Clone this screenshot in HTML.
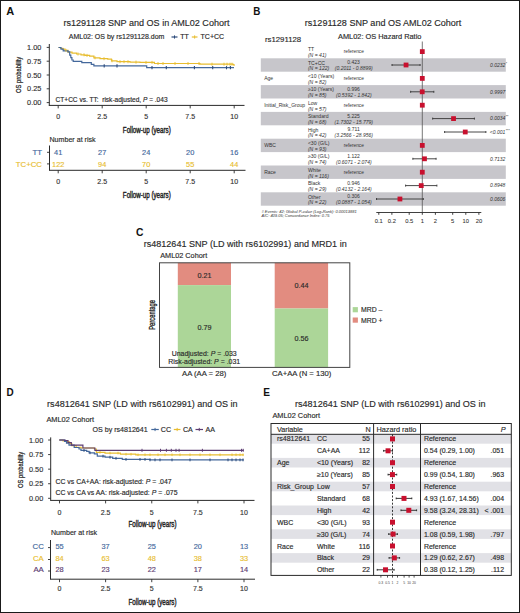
<!DOCTYPE html>
<html><head><meta charset="utf-8"><style>
html,body{margin:0;padding:0;background:#fff;}
svg{display:block;}
text{font-family:"Liberation Sans",sans-serif;white-space:pre;}
</style></head><body>
<svg width="520" height="613" viewBox="0 0 520 613">
<rect width="520" height="613" fill="#fff"/>
<text x="6.3" y="15" fill="#111" style="font-size:11px;font-weight:bold" >A</text>
<text x="63.4" y="25.8" fill="#2a2a2a" stroke="#2a2a2a" stroke-width="0.15" style="font-size:9.05px" >rs1291128 SNP and OS in AML02 Cohort</text>
<text x="68.8" y="39.3" fill="#2a2a2a" stroke="#2a2a2a" stroke-width="0.15" style="font-size:7.0px" >AML02: OS by rs1291128.dom</text>
<line x1="171.5" y1="37" x2="177.5" y2="37" stroke="#2c4a7a" stroke-width="1.2" />
<line x1="174.5" y1="35.4" x2="174.5" y2="38.6" stroke="#2c4a7a" stroke-width="1" />
<text x="180.3" y="39.4" fill="#2a2a2a" stroke="#2a2a2a" stroke-width="0.15" style="font-size:7px" >TT</text>
<line x1="191.8" y1="37" x2="197.5" y2="37" stroke="#e8bd30" stroke-width="1.2" />
<line x1="194.65" y1="35.4" x2="194.65" y2="38.6" stroke="#e8bd30" stroke-width="1" />
<text x="200.6" y="39.4" fill="#2a2a2a" stroke="#2a2a2a" stroke-width="0.15" style="font-size:7px" >TC+CC</text>
<line x1="49.3" y1="44" x2="49.3" y2="105.5" stroke="#2a2a2a" stroke-width="1" />
<line x1="46.7" y1="47.4" x2="49.3" y2="47.4" stroke="#2a2a2a" stroke-width="0.9" />
<text x="41.3" y="50.03" text-anchor="end" fill="#333" stroke="#333" stroke-width="0.15" style="font-size:7.3px" >1.00</text>
<line x1="46.7" y1="61.2" x2="49.3" y2="61.2" stroke="#2a2a2a" stroke-width="0.9" />
<text x="41.3" y="63.83" text-anchor="end" fill="#333" stroke="#333" stroke-width="0.15" style="font-size:7.3px" >0.75</text>
<line x1="46.7" y1="75.0" x2="49.3" y2="75.0" stroke="#2a2a2a" stroke-width="0.9" />
<text x="41.3" y="77.63" text-anchor="end" fill="#333" stroke="#333" stroke-width="0.15" style="font-size:7.3px" >0.50</text>
<line x1="46.7" y1="88.8" x2="49.3" y2="88.8" stroke="#2a2a2a" stroke-width="0.9" />
<text x="41.3" y="91.43" text-anchor="end" fill="#333" stroke="#333" stroke-width="0.15" style="font-size:7.3px" >0.25</text>
<line x1="46.7" y1="102.6" x2="49.3" y2="102.6" stroke="#2a2a2a" stroke-width="0.9" />
<text x="41.3" y="105.23" text-anchor="end" fill="#333" stroke="#333" stroke-width="0.15" style="font-size:7.3px" >0.00</text>
<line x1="48.8" y1="105.4" x2="244.5" y2="105.4" stroke="#2a2a2a" stroke-width="1" />
<line x1="58.2" y1="105.4" x2="58.2" y2="108.4" stroke="#2a2a2a" stroke-width="0.9" />
<text x="58.2" y="118.92" text-anchor="middle" fill="#333" stroke="#333" stroke-width="0.15" style="font-size:7.0px" >0</text>
<line x1="102.2" y1="105.4" x2="102.2" y2="108.4" stroke="#2a2a2a" stroke-width="0.9" />
<text x="102.2" y="118.92" text-anchor="middle" fill="#333" stroke="#333" stroke-width="0.15" style="font-size:7.0px" >2.5</text>
<line x1="146.2" y1="105.4" x2="146.2" y2="108.4" stroke="#2a2a2a" stroke-width="0.9" />
<text x="146.2" y="118.92" text-anchor="middle" fill="#333" stroke="#333" stroke-width="0.15" style="font-size:7.0px" >5</text>
<line x1="190.2" y1="105.4" x2="190.2" y2="108.4" stroke="#2a2a2a" stroke-width="0.9" />
<text x="190.2" y="118.92" text-anchor="middle" fill="#333" stroke="#333" stroke-width="0.15" style="font-size:7.0px" >7.5</text>
<line x1="234.2" y1="105.4" x2="234.2" y2="108.4" stroke="#2a2a2a" stroke-width="0.9" />
<text x="234.2" y="118.92" text-anchor="middle" fill="#333" stroke="#333" stroke-width="0.15" style="font-size:7.0px" >10</text>
<text transform="translate(21.4,74.9) rotate(-90) scale(0.76,1)" text-anchor="middle" fill="#222" stroke="#222" stroke-width="0.24" style="font-size:7.6px">OS probability</text>
<text transform="translate(146.8,132.5) scale(0.69,1)" text-anchor="middle" fill="#222" stroke="#222" stroke-width="0.42" style="font-size:9px">Follow-up (years)</text>
<text x="55.6" y="101.5" fill="#2a2a2a" stroke="#2a2a2a" stroke-width="0.15" style="font-size:6.55px" >CT+CC vs. TT:  risk-adjusted, <tspan font-style="italic">P</tspan> = .043</text>
<path d="M58.5,47.5H60.5V48.3H62.8V49.2H65V50.4H68V52.2H72V53.1H76.6V54H81V54.8H85V55.4H89.6V56.1H93.9V57.8H100V58.7H107.7V59.2H111.5V60.8H117V61.7H130V62.1H140V62.4H154.4V63.5H200V64.2H233V64.5H234V66" fill="none" stroke="#e8bd30" stroke-width="1.2"/>
<path d="M58.5,47.5H61V49.2H63.2V50.9H68V51.8H69.7V55.2H70.8V57.6H71.9V60H73.2V61.3H81.8V62.6H91.3V64.3H93.9V65.8H146.7V67.7H234V67.7" fill="none" stroke="#44689c" stroke-width="1.2"/>
<line x1="66" y1="48.9" x2="66" y2="51.9" stroke="#e8bd30" stroke-width="0.9" />
<line x1="78" y1="52.5" x2="78" y2="55.5" stroke="#e8bd30" stroke-width="0.9" />
<line x1="84" y1="53.3" x2="84" y2="56.3" stroke="#e8bd30" stroke-width="0.9" />
<line x1="87" y1="53.9" x2="87" y2="56.9" stroke="#e8bd30" stroke-width="0.9" />
<line x1="95" y1="56.3" x2="95" y2="59.3" stroke="#e8bd30" stroke-width="0.9" />
<line x1="104" y1="57.2" x2="104" y2="60.2" stroke="#e8bd30" stroke-width="0.9" />
<line x1="112" y1="59.3" x2="112" y2="62.3" stroke="#e8bd30" stroke-width="0.9" />
<line x1="120" y1="60.2" x2="120" y2="63.2" stroke="#e8bd30" stroke-width="0.9" />
<line x1="124" y1="60.2" x2="124" y2="63.2" stroke="#e8bd30" stroke-width="0.9" />
<line x1="128" y1="60.2" x2="128" y2="63.2" stroke="#e8bd30" stroke-width="0.9" />
<line x1="136" y1="60.6" x2="136" y2="63.6" stroke="#e8bd30" stroke-width="0.9" />
<line x1="146" y1="60.9" x2="146" y2="63.9" stroke="#e8bd30" stroke-width="0.9" />
<line x1="152" y1="60.9" x2="152" y2="63.9" stroke="#e8bd30" stroke-width="0.9" />
<line x1="158" y1="62.0" x2="158" y2="65.0" stroke="#e8bd30" stroke-width="0.9" />
<line x1="163" y1="62.0" x2="163" y2="65.0" stroke="#e8bd30" stroke-width="0.9" />
<line x1="175" y1="62.0" x2="175" y2="65.0" stroke="#e8bd30" stroke-width="0.9" />
<line x1="188" y1="62.0" x2="188" y2="65.0" stroke="#e8bd30" stroke-width="0.9" />
<line x1="199" y1="62.0" x2="199" y2="65.0" stroke="#e8bd30" stroke-width="0.9" />
<line x1="212" y1="62.7" x2="212" y2="65.7" stroke="#e8bd30" stroke-width="0.9" />
<line x1="224" y1="62.7" x2="224" y2="65.7" stroke="#e8bd30" stroke-width="0.9" />
<line x1="227" y1="62.7" x2="227" y2="65.7" stroke="#e8bd30" stroke-width="0.9" />
<line x1="230" y1="62.7" x2="230" y2="65.7" stroke="#e8bd30" stroke-width="0.9" />
<line x1="232" y1="62.7" x2="232" y2="65.7" stroke="#e8bd30" stroke-width="0.9" />
<line x1="104.2" y1="64.2" x2="104.2" y2="67.4" stroke="#2c4a7a" stroke-width="1.1" />
<line x1="117" y1="64.2" x2="117" y2="67.4" stroke="#2c4a7a" stroke-width="1.1" />
<line x1="152" y1="66.1" x2="152" y2="69.3" stroke="#2c4a7a" stroke-width="1.1" />
<line x1="166.3" y1="66.1" x2="166.3" y2="69.3" stroke="#2c4a7a" stroke-width="1.1" />
<line x1="194.4" y1="66.1" x2="194.4" y2="69.3" stroke="#2c4a7a" stroke-width="1.1" />
<line x1="212.7" y1="66.1" x2="212.7" y2="69.3" stroke="#2c4a7a" stroke-width="1.1" />
<line x1="226.5" y1="66.1" x2="226.5" y2="69.3" stroke="#2c4a7a" stroke-width="1.1" />
<line x1="230.4" y1="66.1" x2="230.4" y2="69.3" stroke="#2c4a7a" stroke-width="1.1" />
<text x="49.5" y="142" fill="#2a2a2a" stroke="#2a2a2a" stroke-width="0.15" style="font-size:7.1px" >Number at risk</text>
<line x1="49.5" y1="145.5" x2="49.5" y2="170.3" stroke="#2a2a2a" stroke-width="1" />
<line x1="47" y1="152.3" x2="49.5" y2="152.3" stroke="#2a2a2a" stroke-width="0.9" />
<text x="42" y="155.0" text-anchor="end" fill="#44689c" stroke="#44689c" stroke-width="0.15" style="font-size:7.8px" >TT</text>
<line x1="47" y1="163.9" x2="49.5" y2="163.9" stroke="#2a2a2a" stroke-width="0.9" />
<text x="42" y="166.6" text-anchor="end" fill="#e8bd30" stroke="#e8bd30" stroke-width="0.15" style="font-size:7.8px" >TC+CC</text>
<text x="58.2" y="155.0" text-anchor="middle" fill="#44689c" stroke="#44689c" stroke-width="0.15" style="font-size:7.4px" >41</text>
<text x="58.2" y="166.6" text-anchor="middle" fill="#e8bd30" stroke="#e8bd30" stroke-width="0.15" style="font-size:7.4px" >122</text>
<text x="102.2" y="155.0" text-anchor="middle" fill="#44689c" stroke="#44689c" stroke-width="0.15" style="font-size:7.4px" >27</text>
<text x="102.2" y="166.6" text-anchor="middle" fill="#e8bd30" stroke="#e8bd30" stroke-width="0.15" style="font-size:7.4px" >94</text>
<text x="146.2" y="155.0" text-anchor="middle" fill="#44689c" stroke="#44689c" stroke-width="0.15" style="font-size:7.4px" >24</text>
<text x="146.2" y="166.6" text-anchor="middle" fill="#e8bd30" stroke="#e8bd30" stroke-width="0.15" style="font-size:7.4px" >70</text>
<text x="190.2" y="155.0" text-anchor="middle" fill="#44689c" stroke="#44689c" stroke-width="0.15" style="font-size:7.4px" >20</text>
<text x="190.2" y="166.6" text-anchor="middle" fill="#e8bd30" stroke="#e8bd30" stroke-width="0.15" style="font-size:7.4px" >55</text>
<text x="234.2" y="155.0" text-anchor="middle" fill="#44689c" stroke="#44689c" stroke-width="0.15" style="font-size:7.4px" >16</text>
<text x="234.2" y="166.6" text-anchor="middle" fill="#e8bd30" stroke="#e8bd30" stroke-width="0.15" style="font-size:7.4px" >44</text>
<line x1="49" y1="170.3" x2="245.5" y2="170.3" stroke="#2a2a2a" stroke-width="1" />
<line x1="58.2" y1="170.3" x2="58.2" y2="173.3" stroke="#2a2a2a" stroke-width="0.9" />
<text x="58.2" y="183.72" text-anchor="middle" fill="#333" stroke="#333" stroke-width="0.15" style="font-size:7.0px" >0</text>
<line x1="102.2" y1="170.3" x2="102.2" y2="173.3" stroke="#2a2a2a" stroke-width="0.9" />
<text x="102.2" y="183.72" text-anchor="middle" fill="#333" stroke="#333" stroke-width="0.15" style="font-size:7.0px" >2.5</text>
<line x1="146.2" y1="170.3" x2="146.2" y2="173.3" stroke="#2a2a2a" stroke-width="0.9" />
<text x="146.2" y="183.72" text-anchor="middle" fill="#333" stroke="#333" stroke-width="0.15" style="font-size:7.0px" >5</text>
<line x1="190.2" y1="170.3" x2="190.2" y2="173.3" stroke="#2a2a2a" stroke-width="0.9" />
<text x="190.2" y="183.72" text-anchor="middle" fill="#333" stroke="#333" stroke-width="0.15" style="font-size:7.0px" >7.5</text>
<line x1="234.2" y1="170.3" x2="234.2" y2="173.3" stroke="#2a2a2a" stroke-width="0.9" />
<text x="234.2" y="183.72" text-anchor="middle" fill="#333" stroke="#333" stroke-width="0.15" style="font-size:7.0px" >10</text>
<text transform="translate(146.8,197.9) scale(0.69,1)" text-anchor="middle" fill="#222" stroke="#222" stroke-width="0.42" style="font-size:9px">Follow-up (years)</text>
<text transform="translate(253.3,14.8) scale(0.88,1)" fill="#111" style="font-size:11.2px;font-weight:bold" >B</text>
<text x="304.8" y="25.9" fill="#2a2a2a" stroke="#2a2a2a" stroke-width="0.15" style="font-size:9.05px" >rs1291128 SNP and OS AML02 Cohort</text>
<text x="264.9" y="42.3" fill="#2a2a2a" stroke="#2a2a2a" stroke-width="0.15" style="font-size:7.8px" >rs1291128</text>
<text x="338" y="38.7" fill="#2a2a2a" stroke="#2a2a2a" stroke-width="0.15" style="font-size:7.4px" >AML02: OS Hazard Ratio</text>
<rect x="260.8" y="58.3" width="245" height="13.4" fill="#c7c6cb" />
<rect x="260.8" y="85.1" width="245" height="13.4" fill="#c7c6cb" />
<rect x="260.8" y="111.9" width="245" height="13.4" fill="#c7c6cb" />
<rect x="260.8" y="138.7" width="245" height="13.4" fill="#c7c6cb" />
<rect x="260.8" y="165.5" width="245" height="13.4" fill="#c7c6cb" />
<rect x="260.8" y="192.3" width="245" height="13.4" fill="#c7c6cb" />
<line x1="422.3" y1="41.5" x2="422.3" y2="212.5" stroke="#555" stroke-width="0.8" />
<text x="307.9" y="51.1" fill="#333" style="font-size:5.1px" >TT</text>
<text x="307.9" y="57.0" fill="#333" style="font-size:5.1px;font-style:italic" >(N = 41)</text>
<text x="353.8" y="53.4" text-anchor="middle" fill="#333" style="font-size:4.8px" >reference</text>
<rect x="419.9" y="49.2" width="4.8" height="4.8" fill="#c8102e" />
<text x="307.9" y="64.5" fill="#333" style="font-size:5.1px" >TC+CC</text>
<text x="307.9" y="70.4" fill="#333" style="font-size:5.1px;font-style:italic" >(N = 122)</text>
<text x="353.6" y="64.0" text-anchor="middle" fill="#333" style="font-size:5.0px" >0.423</text>
<text x="353.8" y="70.3" text-anchor="middle" fill="#333" style="font-size:5.0px;font-style:italic" >(0.2011 - 0.8899)</text>
<line x1="392" y1="65.0" x2="420.1" y2="65.0" stroke="#333" stroke-width="0.9" />
<line x1="392" y1="64.0" x2="392" y2="66.0" stroke="#333" stroke-width="0.9" />
<line x1="420.1" y1="64.0" x2="420.1" y2="66.0" stroke="#333" stroke-width="0.9" />
<rect x="403.65" y="62.6" width="4.8" height="4.8" fill="#c8102e" />
<text x="505.3" y="66.8" text-anchor="end" fill="#333" style="font-size:5.0px;font-style:italic" >0.0232</text>
<text x="505.7" y="64.7" fill="#333" style="font-size:3.6px" >*</text>
<text x="264.2" y="80.4" fill="#333" style="font-size:5.0px" >Age</text>
<text x="307.9" y="77.9" fill="#333" style="font-size:5.1px" >&lt;10 (Years)</text>
<text x="307.9" y="83.8" fill="#333" style="font-size:5.1px;font-style:italic" >(N = 82)</text>
<text x="353.8" y="80.2" text-anchor="middle" fill="#333" style="font-size:4.8px" >reference</text>
<rect x="419.9" y="76.0" width="4.8" height="4.8" fill="#c8102e" />
<text x="307.9" y="91.3" fill="#333" style="font-size:5.1px" >≥10 (Years)</text>
<text x="307.9" y="97.2" fill="#333" style="font-size:5.1px;font-style:italic" >(N = 85)</text>
<text x="353.6" y="90.8" text-anchor="middle" fill="#333" style="font-size:5.0px" >0.996</text>
<text x="353.8" y="97.1" text-anchor="middle" fill="#333" style="font-size:5.0px;font-style:italic" >(0.5392 - 1.842)</text>
<line x1="410.63" y1="91.8" x2="433.84" y2="91.8" stroke="#333" stroke-width="0.9" />
<line x1="410.63" y1="90.8" x2="410.63" y2="92.8" stroke="#333" stroke-width="0.9" />
<line x1="433.84" y1="90.8" x2="433.84" y2="92.8" stroke="#333" stroke-width="0.9" />
<rect x="419.82" y="89.4" width="4.8" height="4.8" fill="#c8102e" />
<text x="505.3" y="93.6" text-anchor="end" fill="#333" style="font-size:5.0px;font-style:italic" >0.9997</text>
<text x="264.2" y="107.2" fill="#333" style="font-size:5.0px" >Initial_Risk_Group</text>
<text x="307.9" y="104.7" fill="#333" style="font-size:5.1px" >Low</text>
<text x="307.9" y="110.6" fill="#333" style="font-size:5.1px;font-style:italic" >(N = 57)</text>
<text x="353.8" y="107.0" text-anchor="middle" fill="#333" style="font-size:4.8px" >reference</text>
<rect x="419.9" y="102.8" width="4.8" height="4.8" fill="#c8102e" />
<text x="307.9" y="118.1" fill="#333" style="font-size:5.1px" >Standard</text>
<text x="307.9" y="124" fill="#333" style="font-size:5.1px;font-style:italic" >(N = 68)</text>
<text x="353.6" y="117.6" text-anchor="middle" fill="#333" style="font-size:5.0px" >5.225</text>
<text x="353.8" y="123.9" text-anchor="middle" fill="#333" style="font-size:5.0px;font-style:italic" >(1.7302 - 15.779)</text>
<line x1="432.66" y1="118.6" x2="474.42" y2="118.6" stroke="#333" stroke-width="0.9" />
<line x1="432.66" y1="117.6" x2="432.66" y2="119.6" stroke="#333" stroke-width="0.9" />
<line x1="474.42" y1="117.6" x2="474.42" y2="119.6" stroke="#333" stroke-width="0.9" />
<rect x="451.14" y="116.2" width="4.8" height="4.8" fill="#c8102e" />
<text x="505.3" y="120.4" text-anchor="end" fill="#333" style="font-size:5.0px;font-style:italic" >0.0034</text>
<text x="505.7" y="118.3" fill="#333" style="font-size:3.6px" >**</text>
<text x="307.9" y="131.5" fill="#333" style="font-size:5.1px" >High</text>
<text x="307.9" y="137.4" fill="#333" style="font-size:5.1px;font-style:italic" >(N = 42)</text>
<text x="353.6" y="131.0" text-anchor="middle" fill="#333" style="font-size:5.0px" >9.711</text>
<text x="353.8" y="137.3" text-anchor="middle" fill="#333" style="font-size:5.0px;font-style:italic" >(3.2566 - 28.956)</text>
<line x1="444.61" y1="132.0" x2="485.89" y2="132.0" stroke="#333" stroke-width="0.9" />
<line x1="444.61" y1="131.0" x2="444.61" y2="133.0" stroke="#333" stroke-width="0.9" />
<line x1="485.89" y1="131.0" x2="485.89" y2="133.0" stroke="#333" stroke-width="0.9" />
<rect x="462.85" y="129.6" width="4.8" height="4.8" fill="#c8102e" />
<text x="505.3" y="133.8" text-anchor="end" fill="#333" style="font-size:5.0px;font-style:italic" >&lt;0.001</text>
<text x="505.7" y="131.7" fill="#333" style="font-size:3.6px" >***</text>
<text x="264.2" y="147.4" fill="#333" style="font-size:5.0px" >WBC</text>
<text x="307.9" y="144.9" fill="#333" style="font-size:5.1px" >&lt;30 (G/L)</text>
<text x="307.9" y="150.8" fill="#333" style="font-size:5.1px;font-style:italic" >(N = 93)</text>
<text x="353.8" y="147.2" text-anchor="middle" fill="#333" style="font-size:4.8px" >reference</text>
<rect x="419.9" y="143" width="4.8" height="4.8" fill="#c8102e" />
<text x="307.9" y="158.3" fill="#333" style="font-size:5.1px" >≥30 (G/L)</text>
<text x="307.9" y="164.2" fill="#333" style="font-size:5.1px;font-style:italic" >(N = 74)</text>
<text x="353.6" y="157.8" text-anchor="middle" fill="#333" style="font-size:5.0px" >1.122</text>
<text x="353.8" y="164.1" text-anchor="middle" fill="#333" style="font-size:5.0px;font-style:italic" >(0.6071 - 2.074)</text>
<line x1="412.87" y1="158.8" x2="436.08" y2="158.8" stroke="#333" stroke-width="0.9" />
<line x1="412.87" y1="157.8" x2="412.87" y2="159.8" stroke="#333" stroke-width="0.9" />
<line x1="436.08" y1="157.8" x2="436.08" y2="159.8" stroke="#333" stroke-width="0.9" />
<rect x="422.07" y="156.4" width="4.8" height="4.8" fill="#c8102e" />
<text x="505.3" y="160.6" text-anchor="end" fill="#333" style="font-size:5.0px;font-style:italic" >0.7132</text>
<text x="264.2" y="174.2" fill="#333" style="font-size:5.0px" >Race</text>
<text x="307.9" y="171.7" fill="#333" style="font-size:5.1px" >White</text>
<text x="307.9" y="177.6" fill="#333" style="font-size:5.1px;font-style:italic" >(N = 116)</text>
<text x="353.8" y="174.0" text-anchor="middle" fill="#333" style="font-size:4.8px" >reference</text>
<rect x="419.9" y="169.8" width="4.8" height="4.8" fill="#c8102e" />
<text x="307.9" y="185.1" fill="#333" style="font-size:5.1px" >Black</text>
<text x="307.9" y="191.0" fill="#333" style="font-size:5.1px;font-style:italic" >(N = 29)</text>
<text x="353.6" y="184.6" text-anchor="middle" fill="#333" style="font-size:5.0px" >0.946</text>
<text x="353.8" y="190.9" text-anchor="middle" fill="#333" style="font-size:5.0px;font-style:italic" >(0.4132 - 2.164)</text>
<line x1="405.6" y1="185.6" x2="436.88" y2="185.6" stroke="#333" stroke-width="0.9" />
<line x1="405.6" y1="184.6" x2="405.6" y2="186.6" stroke="#333" stroke-width="0.9" />
<line x1="436.88" y1="184.6" x2="436.88" y2="186.6" stroke="#333" stroke-width="0.9" />
<rect x="418.85" y="183.2" width="4.8" height="4.8" fill="#c8102e" />
<text x="505.3" y="187.4" text-anchor="end" fill="#333" style="font-size:5.0px;font-style:italic" >0.8948</text>
<text x="307.9" y="198.5" fill="#333" style="font-size:5.1px" >Other</text>
<text x="307.9" y="204.4" fill="#333" style="font-size:5.1px;font-style:italic" >(N = 22)</text>
<text x="353.6" y="198.0" text-anchor="middle" fill="#333" style="font-size:5.0px" >0.306</text>
<text x="353.8" y="204.3" text-anchor="middle" fill="#333" style="font-size:5.0px;font-style:italic" >(0.0887 - 1.054)</text>
<line x1="376.53" y1="199.0" x2="423.29" y2="199.0" stroke="#333" stroke-width="0.9" />
<line x1="376.53" y1="198.0" x2="376.53" y2="200.0" stroke="#333" stroke-width="0.9" />
<line x1="423.29" y1="198.0" x2="423.29" y2="200.0" stroke="#333" stroke-width="0.9" />
<rect x="397.53" y="196.6" width="4.8" height="4.8" fill="#c8102e" />
<text x="505.3" y="200.8" text-anchor="end" fill="#333" style="font-size:5.0px;font-style:italic" >0.0606</text>
<line x1="376.3" y1="212.5" x2="481.3" y2="212.5" stroke="#2a2a2a" stroke-width="0.9" />
<line x1="378.8" y1="212.5" x2="378.8" y2="214.8" stroke="#2a2a2a" stroke-width="0.9" />
<text x="378.8" y="222.9" text-anchor="middle" fill="#333" stroke="#333" stroke-width="0.07" style="font-size:5.8px" >0.1</text>
<line x1="391.89" y1="212.5" x2="391.89" y2="214.8" stroke="#2a2a2a" stroke-width="0.9" />
<text x="391.89" y="222.9" text-anchor="middle" fill="#333" stroke="#333" stroke-width="0.07" style="font-size:5.8px" >0.2</text>
<line x1="409.21" y1="212.5" x2="409.21" y2="214.8" stroke="#2a2a2a" stroke-width="0.9" />
<text x="409.21" y="222.9" text-anchor="middle" fill="#333" stroke="#333" stroke-width="0.07" style="font-size:5.8px" >0.5</text>
<line x1="422.3" y1="212.5" x2="422.3" y2="214.8" stroke="#2a2a2a" stroke-width="0.9" />
<text x="422.3" y="222.9" text-anchor="middle" fill="#333" stroke="#333" stroke-width="0.07" style="font-size:5.8px" >1</text>
<line x1="435.39" y1="212.5" x2="435.39" y2="214.8" stroke="#2a2a2a" stroke-width="0.9" />
<text x="435.39" y="222.9" text-anchor="middle" fill="#333" stroke="#333" stroke-width="0.07" style="font-size:5.8px" >2</text>
<line x1="452.71" y1="212.5" x2="452.71" y2="214.8" stroke="#2a2a2a" stroke-width="0.9" />
<text x="452.71" y="222.9" text-anchor="middle" fill="#333" stroke="#333" stroke-width="0.07" style="font-size:5.8px" >5</text>
<line x1="465.8" y1="212.5" x2="465.8" y2="214.8" stroke="#2a2a2a" stroke-width="0.9" />
<text x="465.8" y="222.9" text-anchor="middle" fill="#333" stroke="#333" stroke-width="0.07" style="font-size:5.8px" >10</text>
<line x1="478.89" y1="212.5" x2="478.89" y2="214.8" stroke="#2a2a2a" stroke-width="0.9" />
<text x="478.89" y="222.9" text-anchor="middle" fill="#333" stroke="#333" stroke-width="0.07" style="font-size:5.8px" >20</text>
<text x="261.5" y="212.6" fill="#333" style="font-size:4.0px;font-style:italic" ># Events: 42; Global P-value (Log-Rank): 0.00013881</text>
<text x="261.5" y="217.3" fill="#333" style="font-size:4.0px;font-style:italic" >AIC: 409.05; Concordance Index: 0.75</text>
<text transform="translate(135.9,235.9) scale(0.92,1)" fill="#111" style="font-size:11.2px;font-weight:bold" >C</text>
<text x="143.7" y="246.5" fill="#2a2a2a" stroke="#2a2a2a" stroke-width="0.15" style="font-size:9.05px" >rs4812641 SNP (LD with rs6102991) and MRD1 in</text>
<text x="160.2" y="257.6" fill="#2a2a2a" stroke="#2a2a2a" stroke-width="0.15" style="font-size:7.3px" >AML02 Cohort</text>
<rect x="177.8" y="262.8" width="53.2" height="22.3" fill="#e28c80" />
<rect x="177.8" y="285.1" width="53.2" height="82.3" fill="#acd698" />
<rect x="274.7" y="262.8" width="53.4" height="45.7" fill="#e28c80" />
<rect x="274.7" y="308.5" width="53.4" height="58.9" fill="#acd698" />
<rect x="159.5" y="262.8" width="190.3" height="104.6" fill="none" stroke="#444" stroke-width="1"/>
<text x="204.4" y="277.9" text-anchor="middle" fill="#2a2a2a" stroke="#2a2a2a" stroke-width="0.15" style="font-size:7.2px" >0.21</text>
<text x="204.4" y="329.8" text-anchor="middle" fill="#2a2a2a" stroke="#2a2a2a" stroke-width="0.15" style="font-size:7.2px" >0.79</text>
<text x="301.4" y="287.8" text-anchor="middle" fill="#2a2a2a" stroke="#2a2a2a" stroke-width="0.15" style="font-size:7.2px" >0.44</text>
<text x="301.4" y="340.5" text-anchor="middle" fill="#2a2a2a" stroke="#2a2a2a" stroke-width="0.15" style="font-size:7.2px" >0.56</text>
<text x="204.2" y="355.5" text-anchor="middle" fill="#2a2a2a" stroke="#2a2a2a" stroke-width="0.15" style="font-size:6.95px" >Unadjusted: <tspan font-style="italic">P</tspan> = .033</text>
<text x="204.2" y="363.8" text-anchor="middle" fill="#2a2a2a" stroke="#2a2a2a" stroke-width="0.15" style="font-size:6.95px" >Risk-adjusted: <tspan font-style="italic">P</tspan> = .031</text>
<text x="204.2" y="376.1" text-anchor="middle" fill="#2a2a2a" stroke="#2a2a2a" stroke-width="0.15" style="font-size:7.7px" >AA (AA = 28)</text>
<text x="301.7" y="376.1" text-anchor="middle" fill="#2a2a2a" stroke="#2a2a2a" stroke-width="0.15" style="font-size:7.7px" >CA+AA (N = 130)</text>
<text transform="translate(154.5,314.9) rotate(-90) scale(0.67,1)" text-anchor="middle" fill="#222" stroke="#222" stroke-width="0.33" style="font-size:8.7px">Percentage</text>
<rect x="352.7" y="307.1" width="5.2" height="5.2" fill="#acd698" />
<rect x="352.7" y="317.5" width="5.2" height="5.2" fill="#e28c80" />
<text x="361" y="312.2" fill="#2a2a2a" stroke="#2a2a2a" stroke-width="0.15" style="font-size:6.9px" >MRD –</text>
<text x="361" y="322.7" fill="#2a2a2a" stroke="#2a2a2a" stroke-width="0.15" style="font-size:6.9px" >MRD +</text>
<text transform="translate(6.5,395.8) scale(0.92,1)" fill="#111" style="font-size:10.8px;font-weight:bold" >D</text>
<text x="47.1" y="407.0" fill="#2a2a2a" stroke="#2a2a2a" stroke-width="0.15" style="font-size:9.05px" >rs4812641 SNP (LD with rs6102991) and OS in</text>
<text x="46.4" y="422.3" fill="#2a2a2a" stroke="#2a2a2a" stroke-width="0.15" style="font-size:7.4px" >AML02 Cohort</text>
<text x="92.5" y="431.8" fill="#2a2a2a" stroke="#2a2a2a" stroke-width="0.15" style="font-size:7.1px" >OS by rs4812641</text>
<line x1="151.3" y1="429.5" x2="158.8" y2="429.5" stroke="#44689c" stroke-width="1.2" />
<line x1="155.05" y1="427.9" x2="155.05" y2="431.1" stroke="#44689c" stroke-width="1" />
<text x="160.8" y="432" fill="#2a2a2a" stroke="#2a2a2a" stroke-width="0.15" style="font-size:7.1px" >CC</text>
<line x1="173.8" y1="429.5" x2="180.5" y2="429.5" stroke="#e8bd30" stroke-width="1.2" />
<line x1="177.15" y1="427.9" x2="177.15" y2="431.1" stroke="#e8bd30" stroke-width="1" />
<text x="183" y="432" fill="#2a2a2a" stroke="#2a2a2a" stroke-width="0.15" style="font-size:7.1px" >CA</text>
<line x1="195.5" y1="429.5" x2="203" y2="429.5" stroke="#5d3c72" stroke-width="1.2" />
<line x1="199.25" y1="427.9" x2="199.25" y2="431.1" stroke="#5d3c72" stroke-width="1" />
<text x="205.5" y="432" fill="#2a2a2a" stroke="#2a2a2a" stroke-width="0.15" style="font-size:7.1px" >AA</text>
<line x1="50.7" y1="437.4" x2="50.7" y2="500.4" stroke="#2a2a2a" stroke-width="1" />
<line x1="48.1" y1="440.0" x2="50.7" y2="440.0" stroke="#2a2a2a" stroke-width="0.9" />
<text x="43.2" y="442.63" text-anchor="end" fill="#333" stroke="#333" stroke-width="0.15" style="font-size:7.3px" >1.00</text>
<line x1="48.1" y1="454.58" x2="50.7" y2="454.58" stroke="#2a2a2a" stroke-width="0.9" />
<text x="43.2" y="457.2" text-anchor="end" fill="#333" stroke="#333" stroke-width="0.15" style="font-size:7.3px" >0.75</text>
<line x1="48.1" y1="469.15" x2="50.7" y2="469.15" stroke="#2a2a2a" stroke-width="0.9" />
<text x="43.2" y="471.78" text-anchor="end" fill="#333" stroke="#333" stroke-width="0.15" style="font-size:7.3px" >0.50</text>
<line x1="48.1" y1="483.73" x2="50.7" y2="483.73" stroke="#2a2a2a" stroke-width="0.9" />
<text x="43.2" y="486.35" text-anchor="end" fill="#333" stroke="#333" stroke-width="0.15" style="font-size:7.3px" >0.25</text>
<line x1="48.1" y1="498.3" x2="50.7" y2="498.3" stroke="#2a2a2a" stroke-width="0.9" />
<text x="43.2" y="500.93" text-anchor="end" fill="#333" stroke="#333" stroke-width="0.15" style="font-size:7.3px" >0.00</text>
<line x1="50.2" y1="500.4" x2="254.5" y2="500.4" stroke="#2a2a2a" stroke-width="1" />
<line x1="59.5" y1="500.4" x2="59.5" y2="503.4" stroke="#2a2a2a" stroke-width="0.9" />
<text x="59.5" y="514.72" text-anchor="middle" fill="#333" stroke="#333" stroke-width="0.15" style="font-size:7.0px" >0</text>
<line x1="105.62" y1="500.4" x2="105.62" y2="503.4" stroke="#2a2a2a" stroke-width="0.9" />
<text x="105.62" y="514.72" text-anchor="middle" fill="#333" stroke="#333" stroke-width="0.15" style="font-size:7.0px" >2.5</text>
<line x1="151.75" y1="500.4" x2="151.75" y2="503.4" stroke="#2a2a2a" stroke-width="0.9" />
<text x="151.75" y="514.72" text-anchor="middle" fill="#333" stroke="#333" stroke-width="0.15" style="font-size:7.0px" >5</text>
<line x1="197.88" y1="500.4" x2="197.88" y2="503.4" stroke="#2a2a2a" stroke-width="0.9" />
<text x="197.88" y="514.72" text-anchor="middle" fill="#333" stroke="#333" stroke-width="0.15" style="font-size:7.0px" >7.5</text>
<line x1="244.0" y1="500.4" x2="244.0" y2="503.4" stroke="#2a2a2a" stroke-width="0.9" />
<text x="244.0" y="514.72" text-anchor="middle" fill="#333" stroke="#333" stroke-width="0.15" style="font-size:7.0px" >10</text>
<text transform="translate(22.7,469.9) rotate(-90) scale(0.76,1)" text-anchor="middle" fill="#222" stroke="#222" stroke-width="0.24" style="font-size:7.6px">OS probability</text>
<text transform="translate(152.5,526.9) scale(0.69,1)" text-anchor="middle" fill="#222" stroke="#222" stroke-width="0.42" style="font-size:9px">Follow-up (years)</text>
<text x="55.5" y="483.6" fill="#2a2a2a" stroke="#2a2a2a" stroke-width="0.15" style="font-size:6.9px" >CC vs CA+AA: risk-adjusted: <tspan font-style="italic">P</tspan> = .047</text>
<text x="55.5" y="494.8" fill="#2a2a2a" stroke="#2a2a2a" stroke-width="0.15" style="font-size:6.9px" >CC vs CA vs AA: risk-adjusted: <tspan font-style="italic">P</tspan> = .075</text>
<path d="M59.3,440H63V440.8H67.5V441.8H69.5V443.6H71.8V445.6H76.2V447.3H81V448H94.4V449H96.3V452.3H105V453.1H120.4V454.2H135.8V454.8H243.7V454.8" fill="none" stroke="#e8bd30" stroke-width="1.2"/>
<path d="M59.3,440H64.6V441.3H66.5V443.2H69V445.1H74.2V447.5H79V449H81V450.4H86.7V451.4H89.1V452.8H94.4V453.8H97.3V456.2H105V457.2H112.7V458.3H122.3V459.4H150V459.9H243.7V459.9" fill="none" stroke="#44689c" stroke-width="1.2"/>
<path d="M59.3,440H65V440.5H68V442.5H71.3V445.1H82.9V448H94.9V450.3H243.7V450.3" fill="none" stroke="#5d3c72" stroke-width="1.2"/>
<line x1="142" y1="448.8" x2="142" y2="451.8" stroke="#5d3c72" stroke-width="1" />
<line x1="160.5" y1="448.8" x2="160.5" y2="451.8" stroke="#5d3c72" stroke-width="1" />
<line x1="166.4" y1="448.8" x2="166.4" y2="451.8" stroke="#5d3c72" stroke-width="1" />
<line x1="171.3" y1="448.8" x2="171.3" y2="451.8" stroke="#5d3c72" stroke-width="1" />
<line x1="176" y1="448.8" x2="176" y2="451.8" stroke="#5d3c72" stroke-width="1" />
<line x1="179.1" y1="448.8" x2="179.1" y2="451.8" stroke="#5d3c72" stroke-width="1" />
<line x1="202.4" y1="448.8" x2="202.4" y2="451.8" stroke="#5d3c72" stroke-width="1" />
<line x1="241.5" y1="448.8" x2="241.5" y2="451.8" stroke="#5d3c72" stroke-width="1" />
<line x1="243.2" y1="448.8" x2="243.2" y2="451.8" stroke="#5d3c72" stroke-width="1" />
<line x1="100" y1="451.0" x2="100" y2="453.6" stroke="#e8bd30" stroke-width="0.9" />
<line x1="110" y1="451.8" x2="110" y2="454.4" stroke="#e8bd30" stroke-width="0.9" />
<line x1="118" y1="451.8" x2="118" y2="454.4" stroke="#e8bd30" stroke-width="0.9" />
<line x1="126" y1="452.9" x2="126" y2="455.5" stroke="#e8bd30" stroke-width="0.9" />
<line x1="131" y1="452.9" x2="131" y2="455.5" stroke="#e8bd30" stroke-width="0.9" />
<line x1="138" y1="453.5" x2="138" y2="456.1" stroke="#e8bd30" stroke-width="0.9" />
<line x1="145" y1="453.5" x2="145" y2="456.1" stroke="#e8bd30" stroke-width="0.9" />
<line x1="150" y1="453.5" x2="150" y2="456.1" stroke="#e8bd30" stroke-width="0.9" />
<line x1="158" y1="453.5" x2="158" y2="456.1" stroke="#e8bd30" stroke-width="0.9" />
<line x1="165" y1="453.5" x2="165" y2="456.1" stroke="#e8bd30" stroke-width="0.9" />
<line x1="172" y1="453.5" x2="172" y2="456.1" stroke="#e8bd30" stroke-width="0.9" />
<line x1="180" y1="453.5" x2="180" y2="456.1" stroke="#e8bd30" stroke-width="0.9" />
<line x1="190" y1="453.5" x2="190" y2="456.1" stroke="#e8bd30" stroke-width="0.9" />
<line x1="200" y1="453.5" x2="200" y2="456.1" stroke="#e8bd30" stroke-width="0.9" />
<line x1="210" y1="453.5" x2="210" y2="456.1" stroke="#e8bd30" stroke-width="0.9" />
<line x1="220" y1="453.5" x2="220" y2="456.1" stroke="#e8bd30" stroke-width="0.9" />
<line x1="232" y1="453.5" x2="232" y2="456.1" stroke="#e8bd30" stroke-width="0.9" />
<line x1="236" y1="453.5" x2="236" y2="456.1" stroke="#e8bd30" stroke-width="0.9" />
<line x1="240" y1="453.5" x2="240" y2="456.1" stroke="#e8bd30" stroke-width="0.9" />
<line x1="243" y1="453.5" x2="243" y2="456.1" stroke="#e8bd30" stroke-width="0.9" />
<line x1="84" y1="449.0" x2="84" y2="451.8" stroke="#2c4a7a" stroke-width="1" />
<line x1="90" y1="451.4" x2="90" y2="454.2" stroke="#2c4a7a" stroke-width="1" />
<line x1="103" y1="454.8" x2="103" y2="457.6" stroke="#2c4a7a" stroke-width="1" />
<line x1="110" y1="455.8" x2="110" y2="458.6" stroke="#2c4a7a" stroke-width="1" />
<line x1="116" y1="456.9" x2="116" y2="459.7" stroke="#2c4a7a" stroke-width="1" />
<line x1="126" y1="458.0" x2="126" y2="460.8" stroke="#2c4a7a" stroke-width="1" />
<line x1="140" y1="458.0" x2="140" y2="460.8" stroke="#2c4a7a" stroke-width="1" />
<line x1="145" y1="458.0" x2="145" y2="460.8" stroke="#2c4a7a" stroke-width="1" />
<line x1="150" y1="458.5" x2="150" y2="461.3" stroke="#2c4a7a" stroke-width="1" />
<line x1="155" y1="458.5" x2="155" y2="461.3" stroke="#2c4a7a" stroke-width="1" />
<line x1="160" y1="458.5" x2="160" y2="461.3" stroke="#2c4a7a" stroke-width="1" />
<line x1="172" y1="458.5" x2="172" y2="461.3" stroke="#2c4a7a" stroke-width="1" />
<line x1="190" y1="458.5" x2="190" y2="461.3" stroke="#2c4a7a" stroke-width="1" />
<line x1="210" y1="458.5" x2="210" y2="461.3" stroke="#2c4a7a" stroke-width="1" />
<line x1="228" y1="458.5" x2="228" y2="461.3" stroke="#2c4a7a" stroke-width="1" />
<line x1="232" y1="458.5" x2="232" y2="461.3" stroke="#2c4a7a" stroke-width="1" />
<line x1="236" y1="458.5" x2="236" y2="461.3" stroke="#2c4a7a" stroke-width="1" />
<line x1="240" y1="458.5" x2="240" y2="461.3" stroke="#2c4a7a" stroke-width="1" />
<line x1="243" y1="458.5" x2="243" y2="461.3" stroke="#2c4a7a" stroke-width="1" />
<text x="51" y="534.8" fill="#2a2a2a" stroke="#2a2a2a" stroke-width="0.15" style="font-size:7.1px" >Number at risk</text>
<line x1="50.5" y1="540" x2="50.5" y2="579.2" stroke="#2a2a2a" stroke-width="1" />
<line x1="48" y1="547.6" x2="50.5" y2="547.6" stroke="#2a2a2a" stroke-width="0.9" />
<text x="43.8" y="548.6" text-anchor="end" fill="#44689c" stroke="#44689c" stroke-width="0.15" style="font-size:7.8px" >CC</text>
<text x="59.5" y="548.5" text-anchor="middle" fill="#44689c" stroke="#44689c" stroke-width="0.15" style="font-size:7.4px" >55</text>
<text x="105.62" y="548.5" text-anchor="middle" fill="#44689c" stroke="#44689c" stroke-width="0.15" style="font-size:7.4px" >37</text>
<text x="151.75" y="548.5" text-anchor="middle" fill="#44689c" stroke="#44689c" stroke-width="0.15" style="font-size:7.4px" >25</text>
<text x="197.88" y="548.5" text-anchor="middle" fill="#44689c" stroke="#44689c" stroke-width="0.15" style="font-size:7.4px" >20</text>
<text x="244.0" y="548.5" text-anchor="middle" fill="#44689c" stroke="#44689c" stroke-width="0.15" style="font-size:7.4px" >13</text>
<line x1="48" y1="559.5" x2="50.5" y2="559.5" stroke="#2a2a2a" stroke-width="0.9" />
<text x="43.8" y="560.7" text-anchor="end" fill="#e8bd30" stroke="#e8bd30" stroke-width="0.15" style="font-size:7.8px" >CA</text>
<text x="59.5" y="560.6" text-anchor="middle" fill="#e8bd30" stroke="#e8bd30" stroke-width="0.15" style="font-size:7.4px" >84</text>
<text x="105.62" y="560.6" text-anchor="middle" fill="#e8bd30" stroke="#e8bd30" stroke-width="0.15" style="font-size:7.4px" >63</text>
<text x="151.75" y="560.6" text-anchor="middle" fill="#e8bd30" stroke="#e8bd30" stroke-width="0.15" style="font-size:7.4px" >48</text>
<text x="197.88" y="560.6" text-anchor="middle" fill="#e8bd30" stroke="#e8bd30" stroke-width="0.15" style="font-size:7.4px" >38</text>
<text x="244.0" y="560.6" text-anchor="middle" fill="#e8bd30" stroke="#e8bd30" stroke-width="0.15" style="font-size:7.4px" >33</text>
<line x1="48" y1="571" x2="50.5" y2="571" stroke="#2a2a2a" stroke-width="0.9" />
<text x="43.8" y="571.6" text-anchor="end" fill="#5d3c72" stroke="#5d3c72" stroke-width="0.15" style="font-size:7.8px" >AA</text>
<text x="59.5" y="571.5" text-anchor="middle" fill="#5d3c72" stroke="#5d3c72" stroke-width="0.15" style="font-size:7.4px" >28</text>
<text x="105.62" y="571.5" text-anchor="middle" fill="#5d3c72" stroke="#5d3c72" stroke-width="0.15" style="font-size:7.4px" >23</text>
<text x="151.75" y="571.5" text-anchor="middle" fill="#5d3c72" stroke="#5d3c72" stroke-width="0.15" style="font-size:7.4px" >22</text>
<text x="197.88" y="571.5" text-anchor="middle" fill="#5d3c72" stroke="#5d3c72" stroke-width="0.15" style="font-size:7.4px" >17</text>
<text x="244.0" y="571.5" text-anchor="middle" fill="#5d3c72" stroke="#5d3c72" stroke-width="0.15" style="font-size:7.4px" >14</text>
<line x1="50" y1="579.2" x2="255" y2="579.2" stroke="#2a2a2a" stroke-width="1" />
<line x1="59.5" y1="579.2" x2="59.5" y2="582.2" stroke="#2a2a2a" stroke-width="0.9" />
<text x="59.5" y="590.62" text-anchor="middle" fill="#333" stroke="#333" stroke-width="0.15" style="font-size:7.0px" >0</text>
<line x1="105.62" y1="579.2" x2="105.62" y2="582.2" stroke="#2a2a2a" stroke-width="0.9" />
<text x="105.62" y="590.62" text-anchor="middle" fill="#333" stroke="#333" stroke-width="0.15" style="font-size:7.0px" >2.5</text>
<line x1="151.75" y1="579.2" x2="151.75" y2="582.2" stroke="#2a2a2a" stroke-width="0.9" />
<text x="151.75" y="590.62" text-anchor="middle" fill="#333" stroke="#333" stroke-width="0.15" style="font-size:7.0px" >5</text>
<line x1="197.88" y1="579.2" x2="197.88" y2="582.2" stroke="#2a2a2a" stroke-width="0.9" />
<text x="197.88" y="590.62" text-anchor="middle" fill="#333" stroke="#333" stroke-width="0.15" style="font-size:7.0px" >7.5</text>
<line x1="244.0" y1="579.2" x2="244.0" y2="582.2" stroke="#2a2a2a" stroke-width="0.9" />
<text x="244.0" y="590.62" text-anchor="middle" fill="#333" stroke="#333" stroke-width="0.15" style="font-size:7.0px" >10</text>
<text transform="translate(152.5,605.1) scale(0.69,1)" text-anchor="middle" fill="#222" stroke="#222" stroke-width="0.42" style="font-size:9px">Follow-up (years)</text>
<text transform="translate(263.2,396.1) scale(0.9,1)" fill="#111" style="font-size:11.2px;font-weight:bold" >E</text>
<text x="295.0" y="407.1" fill="#2a2a2a" stroke="#2a2a2a" stroke-width="0.15" style="font-size:9.05px" >rs4812641 SNP (LD with rs6102991) and OS in</text>
<text x="272.4" y="418.4" fill="#2a2a2a" stroke="#2a2a2a" stroke-width="0.15" style="font-size:7.4px" >AML02 Cohort</text>
<rect x="271" y="434.1" width="240.3" height="9.6" fill="#e1e1e6" />
<rect x="271" y="457.9" width="240.3" height="9.6" fill="#e1e1e6" />
<rect x="271" y="481.7" width="240.3" height="9.6" fill="#e1e1e6" />
<rect x="271" y="505.5" width="240.3" height="9.6" fill="#e1e1e6" />
<rect x="271" y="529.3" width="240.3" height="9.6" fill="#e1e1e6" />
<rect x="271" y="553.1" width="240.3" height="9.6" fill="#e1e1e6" />
<rect x="271" y="423.5" width="240.3" height="151.9" fill="none" stroke="#2a2a2a" stroke-width="1"/>
<line x1="271" y1="434.3" x2="511.3" y2="434.3" stroke="#2a2a2a" stroke-width="1" />
<line x1="373.6" y1="423.5" x2="373.6" y2="575.4" stroke="#2a2a2a" stroke-width="1" />
<line x1="420.5" y1="423.5" x2="420.5" y2="575.4" stroke="#2a2a2a" stroke-width="1" />
<text x="277" y="432.2" fill="#2a2a2a" stroke="#2a2a2a" stroke-width="0.15" style="font-size:7.2px" >Variable</text>
<text x="370.7" y="432.2" text-anchor="end" fill="#2a2a2a" stroke="#2a2a2a" stroke-width="0.15" style="font-size:7.2px" >N</text>
<text x="376.4" y="432.2" fill="#2a2a2a" stroke="#2a2a2a" stroke-width="0.15" style="font-size:7.35px" >Hazard ratio</text>
<text x="500.7" y="431.7" fill="#2a2a2a" stroke="#2a2a2a" stroke-width="0.15" style="font-size:7.4px;font-style:italic" >P</text>
<line x1="392.5" y1="434.3" x2="392.5" y2="575.4" stroke="#222" stroke-width="0.9" stroke-dasharray="2,1.6"/>
<text x="277" y="441.4" fill="#2a2a2a" stroke="#2a2a2a" stroke-width="0.15" style="font-size:7.0px" >rs4812641</text>
<text x="316.9" y="441.4" fill="#2a2a2a" stroke="#2a2a2a" stroke-width="0.15" style="font-size:7.0px" >CC</text>
<text x="370" y="441.4" text-anchor="end" fill="#2a2a2a" stroke="#2a2a2a" stroke-width="0.15" style="font-size:7.0px" >55</text>
<text x="424" y="441.4" fill="#2a2a2a" stroke="#2a2a2a" stroke-width="0.15" style="font-size:6.95px" >Reference</text>
<rect x="390.0" y="436.4" width="5" height="5" fill="#c8102e" />
<text x="316.9" y="453.3" fill="#2a2a2a" stroke="#2a2a2a" stroke-width="0.15" style="font-size:7.0px" >CA+AA</text>
<text x="370" y="453.3" text-anchor="end" fill="#2a2a2a" stroke="#2a2a2a" stroke-width="0.15" style="font-size:7.0px" >112</text>
<text x="424" y="453.3" fill="#2a2a2a" stroke="#2a2a2a" stroke-width="0.15" style="font-size:6.95px" >0.54 (0.29, 1.00)</text>
<text x="504" y="453.3" text-anchor="end" fill="#2a2a2a" stroke="#2a2a2a" stroke-width="0.15" style="font-size:6.95px" >.051</text>
<line x1="383.58" y1="450.8" x2="392.5" y2="450.8" stroke="#222" stroke-width="0.9" />
<line x1="383.58" y1="449.9" x2="383.58" y2="451.7" stroke="#222" stroke-width="0.9" />
<line x1="392.5" y1="449.9" x2="392.5" y2="451.7" stroke="#222" stroke-width="0.9" />
<rect x="385.56" y="448.3" width="5" height="5" fill="#c8102e" />
<text x="277" y="465.2" fill="#2a2a2a" stroke="#2a2a2a" stroke-width="0.15" style="font-size:7.0px" >Age</text>
<text x="316.9" y="465.2" fill="#2a2a2a" stroke="#2a2a2a" stroke-width="0.15" style="font-size:7.0px" >&lt;10 (Years)</text>
<text x="370" y="465.2" text-anchor="end" fill="#2a2a2a" stroke="#2a2a2a" stroke-width="0.15" style="font-size:7.0px" >82</text>
<text x="424" y="465.2" fill="#2a2a2a" stroke="#2a2a2a" stroke-width="0.15" style="font-size:6.95px" >Reference</text>
<rect x="390.0" y="460.2" width="5" height="5" fill="#c8102e" />
<text x="316.9" y="477.1" fill="#2a2a2a" stroke="#2a2a2a" stroke-width="0.15" style="font-size:7.0px" >≥10 (Years)</text>
<text x="370" y="477.1" text-anchor="end" fill="#2a2a2a" stroke="#2a2a2a" stroke-width="0.15" style="font-size:7.0px" >85</text>
<text x="424" y="477.1" fill="#2a2a2a" stroke="#2a2a2a" stroke-width="0.15" style="font-size:6.95px" >0.99 (0.54, 1.80)</text>
<text x="504" y="477.1" text-anchor="end" fill="#2a2a2a" stroke="#2a2a2a" stroke-width="0.15" style="font-size:6.95px" >.963</text>
<line x1="388.06" y1="474.6" x2="396.74" y2="474.6" stroke="#222" stroke-width="0.9" />
<line x1="388.06" y1="473.7" x2="388.06" y2="475.5" stroke="#222" stroke-width="0.9" />
<line x1="396.74" y1="473.7" x2="396.74" y2="475.5" stroke="#222" stroke-width="0.9" />
<rect x="389.93" y="472.1" width="5" height="5" fill="#c8102e" />
<text x="277" y="489.0" fill="#2a2a2a" stroke="#2a2a2a" stroke-width="0.15" style="font-size:7.0px" >Risk_Group</text>
<text x="316.9" y="489.0" fill="#2a2a2a" stroke="#2a2a2a" stroke-width="0.15" style="font-size:7.0px" >Low</text>
<text x="370" y="489.0" text-anchor="end" fill="#2a2a2a" stroke="#2a2a2a" stroke-width="0.15" style="font-size:7.0px" >57</text>
<text x="424" y="489.0" fill="#2a2a2a" stroke="#2a2a2a" stroke-width="0.15" style="font-size:6.95px" >Reference</text>
<rect x="390.0" y="484.0" width="5" height="5" fill="#c8102e" />
<text x="316.9" y="500.9" fill="#2a2a2a" stroke="#2a2a2a" stroke-width="0.15" style="font-size:7.0px" >Standard</text>
<text x="370" y="500.9" text-anchor="end" fill="#2a2a2a" stroke="#2a2a2a" stroke-width="0.15" style="font-size:7.0px" >68</text>
<text x="424" y="500.9" fill="#2a2a2a" stroke="#2a2a2a" stroke-width="0.15" style="font-size:6.95px" >4.93 (1.67, 14.56)</text>
<text x="504" y="500.9" text-anchor="end" fill="#2a2a2a" stroke="#2a2a2a" stroke-width="0.15" style="font-size:6.95px" >.004</text>
<line x1="396.2" y1="498.4" x2="411.81" y2="498.4" stroke="#222" stroke-width="0.9" />
<line x1="396.2" y1="497.5" x2="396.2" y2="499.3" stroke="#222" stroke-width="0.9" />
<line x1="411.81" y1="497.5" x2="411.81" y2="499.3" stroke="#222" stroke-width="0.9" />
<rect x="401.5" y="495.9" width="5" height="5" fill="#c8102e" />
<text x="316.9" y="512.8" fill="#2a2a2a" stroke="#2a2a2a" stroke-width="0.15" style="font-size:7.0px" >High</text>
<text x="370" y="512.8" text-anchor="end" fill="#2a2a2a" stroke="#2a2a2a" stroke-width="0.15" style="font-size:7.0px" >42</text>
<text x="424" y="512.8" fill="#2a2a2a" stroke="#2a2a2a" stroke-width="0.15" style="font-size:6.95px" >9.58 (3.24, 28.31)</text>
<text x="504" y="512.8" text-anchor="end" fill="#2a2a2a" stroke="#2a2a2a" stroke-width="0.15" style="font-size:6.95px" >&lt; .001</text>
<line x1="400.98" y1="510.3" x2="416.6" y2="510.3" stroke="#222" stroke-width="0.9" />
<line x1="400.98" y1="509.4" x2="400.98" y2="511.2" stroke="#222" stroke-width="0.9" />
<line x1="416.6" y1="509.4" x2="416.6" y2="511.2" stroke="#222" stroke-width="0.9" />
<rect x="406.29" y="507.8" width="5" height="5" fill="#c8102e" />
<text x="277" y="524.7" fill="#2a2a2a" stroke="#2a2a2a" stroke-width="0.15" style="font-size:7.0px" >WBC</text>
<text x="316.9" y="524.7" fill="#2a2a2a" stroke="#2a2a2a" stroke-width="0.15" style="font-size:7.0px" >&lt;30 (G/L)</text>
<text x="370" y="524.7" text-anchor="end" fill="#2a2a2a" stroke="#2a2a2a" stroke-width="0.15" style="font-size:7.0px" >93</text>
<text x="424" y="524.7" fill="#2a2a2a" stroke="#2a2a2a" stroke-width="0.15" style="font-size:6.95px" >Reference</text>
<rect x="390.0" y="519.7" width="5" height="5" fill="#c8102e" />
<text x="316.9" y="536.6" fill="#2a2a2a" stroke="#2a2a2a" stroke-width="0.15" style="font-size:7.0px" >≥30 (G/L)</text>
<text x="370" y="536.6" text-anchor="end" fill="#2a2a2a" stroke="#2a2a2a" stroke-width="0.15" style="font-size:7.0px" >74</text>
<text x="424" y="536.6" fill="#2a2a2a" stroke="#2a2a2a" stroke-width="0.15" style="font-size:6.95px" >1.08 (0.59, 1.98)</text>
<text x="504" y="536.6" text-anchor="end" fill="#2a2a2a" stroke="#2a2a2a" stroke-width="0.15" style="font-size:6.95px" >.797</text>
<line x1="388.7" y1="534.1" x2="397.42" y2="534.1" stroke="#222" stroke-width="0.9" />
<line x1="388.7" y1="533.2" x2="388.7" y2="535.0" stroke="#222" stroke-width="0.9" />
<line x1="397.42" y1="533.2" x2="397.42" y2="535.0" stroke="#222" stroke-width="0.9" />
<rect x="390.55" y="531.6" width="5" height="5" fill="#c8102e" />
<text x="277" y="548.5" fill="#2a2a2a" stroke="#2a2a2a" stroke-width="0.15" style="font-size:7.0px" >Race</text>
<text x="316.9" y="548.5" fill="#2a2a2a" stroke="#2a2a2a" stroke-width="0.15" style="font-size:7.0px" >White</text>
<text x="370" y="548.5" text-anchor="end" fill="#2a2a2a" stroke="#2a2a2a" stroke-width="0.15" style="font-size:7.0px" >116</text>
<text x="424" y="548.5" fill="#2a2a2a" stroke="#2a2a2a" stroke-width="0.15" style="font-size:6.95px" >Reference</text>
<rect x="390.0" y="543.5" width="5" height="5" fill="#c8102e" />
<text x="316.9" y="560.4" fill="#2a2a2a" stroke="#2a2a2a" stroke-width="0.15" style="font-size:7.0px" >Black</text>
<text x="370" y="560.4" text-anchor="end" fill="#2a2a2a" stroke="#2a2a2a" stroke-width="0.15" style="font-size:7.0px" >29</text>
<text x="424" y="560.4" fill="#2a2a2a" stroke="#2a2a2a" stroke-width="0.15" style="font-size:6.95px" >1.29 (0.62, 2.67)</text>
<text x="504" y="560.4" text-anchor="end" fill="#2a2a2a" stroke="#2a2a2a" stroke-width="0.15" style="font-size:6.95px" >.498</text>
<line x1="389.05" y1="557.9" x2="399.58" y2="557.9" stroke="#222" stroke-width="0.9" />
<line x1="389.05" y1="557.0" x2="389.05" y2="558.8" stroke="#222" stroke-width="0.9" />
<line x1="399.58" y1="557.0" x2="399.58" y2="558.8" stroke="#222" stroke-width="0.9" />
<rect x="391.84" y="555.4" width="5" height="5" fill="#c8102e" />
<text x="316.9" y="572.3" fill="#2a2a2a" stroke="#2a2a2a" stroke-width="0.15" style="font-size:7.0px" >Other</text>
<text x="370" y="572.3" text-anchor="end" fill="#2a2a2a" stroke="#2a2a2a" stroke-width="0.15" style="font-size:7.0px" >22</text>
<text x="424" y="572.3" fill="#2a2a2a" stroke="#2a2a2a" stroke-width="0.15" style="font-size:6.95px" >0.38 (0.12, 1.25)</text>
<text x="504" y="572.3" text-anchor="end" fill="#2a2a2a" stroke="#2a2a2a" stroke-width="0.15" style="font-size:6.95px" >.112</text>
<line x1="377.21" y1="569.8" x2="394.11" y2="569.8" stroke="#222" stroke-width="0.9" />
<line x1="377.21" y1="568.9" x2="377.21" y2="570.7" stroke="#222" stroke-width="0.9" />
<line x1="394.11" y1="568.9" x2="394.11" y2="570.7" stroke="#222" stroke-width="0.9" />
<rect x="383.02" y="567.3" width="5" height="5" fill="#c8102e" />
<line x1="380.9" y1="575.4" x2="380.9" y2="577.6" stroke="#2a2a2a" stroke-width="0.8" />
<text x="380.9" y="584.4" text-anchor="middle" fill="#444" style="font-size:3.4px" >0.3</text>
<line x1="387.5" y1="575.4" x2="387.5" y2="577.6" stroke="#2a2a2a" stroke-width="0.8" />
<text x="387.5" y="584.4" text-anchor="middle" fill="#444" style="font-size:3.4px" >0.5</text>
<line x1="392.5" y1="575.4" x2="392.5" y2="577.6" stroke="#2a2a2a" stroke-width="0.8" />
<text x="392.5" y="584.4" text-anchor="middle" fill="#444" style="font-size:3.4px" >1</text>
<line x1="397.5" y1="575.4" x2="397.5" y2="577.6" stroke="#2a2a2a" stroke-width="0.8" />
<text x="397.5" y="584.4" text-anchor="middle" fill="#444" style="font-size:3.4px" >2</text>
<line x1="404.1" y1="575.4" x2="404.1" y2="577.6" stroke="#2a2a2a" stroke-width="0.8" />
<text x="404.1" y="584.4" text-anchor="middle" fill="#444" style="font-size:3.4px" >5</text>
<line x1="409.1" y1="575.4" x2="409.1" y2="577.6" stroke="#2a2a2a" stroke-width="0.8" />
<text x="409.1" y="584.4" text-anchor="middle" fill="#444" style="font-size:3.4px" >10</text>
<line x1="414.1" y1="575.4" x2="414.1" y2="577.6" stroke="#2a2a2a" stroke-width="0.8" />
<text x="414.1" y="584.4" text-anchor="middle" fill="#444" style="font-size:3.4px" >20</text>
<rect x="0.5" y="0.5" width="519" height="612" fill="none" stroke="#1a1a1a" stroke-width="1"/>
</svg></body></html>
